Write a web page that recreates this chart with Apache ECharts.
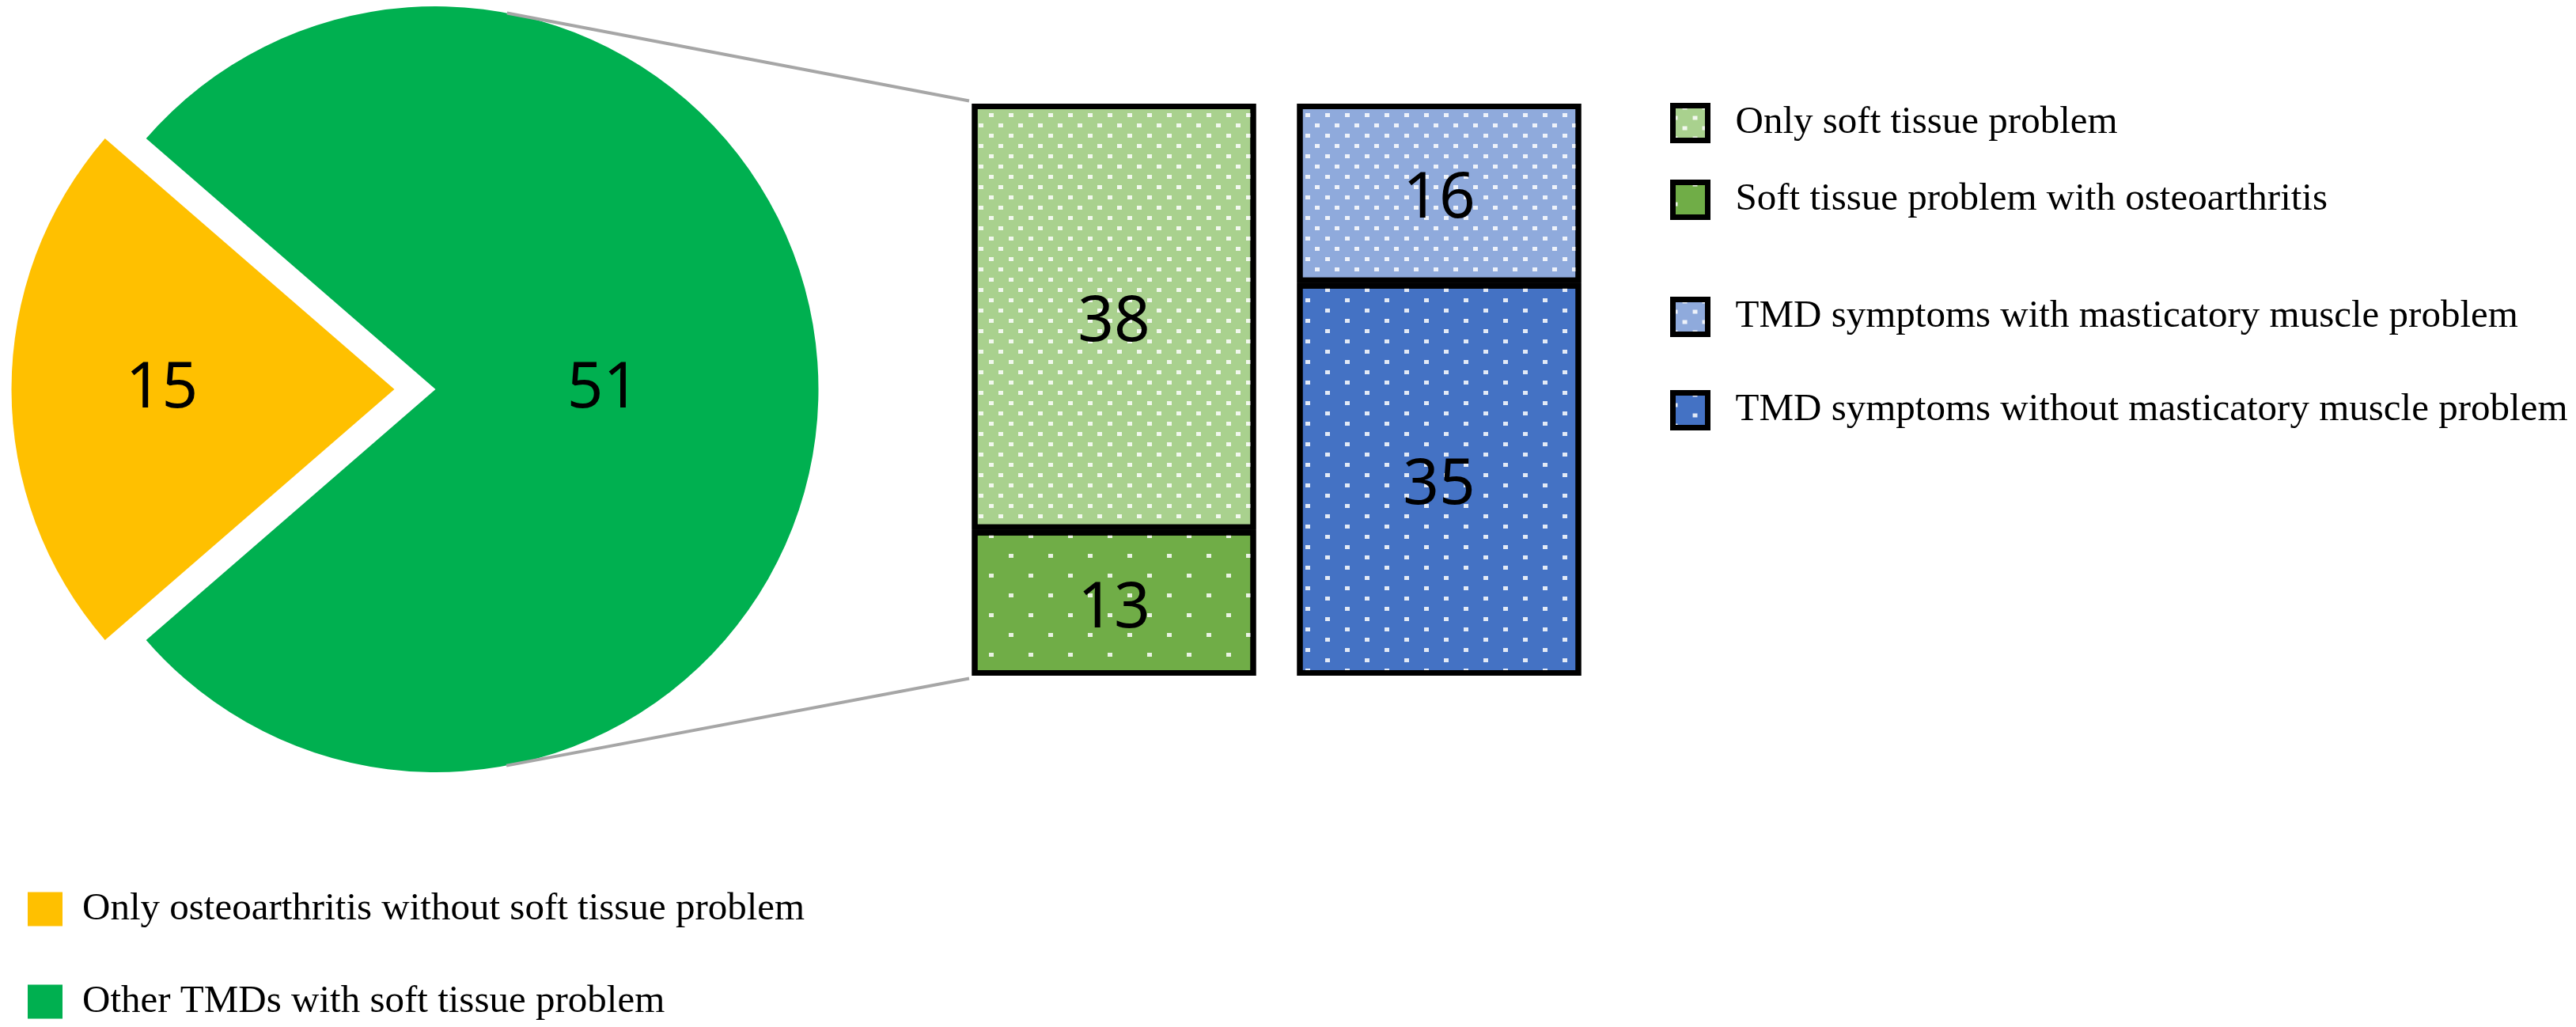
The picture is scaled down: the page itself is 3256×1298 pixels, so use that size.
<!DOCTYPE html>
<html>
<head>
<meta charset="utf-8">
<script src="https://cdn.jsdelivr.net/npm/echarts@6/dist/echarts.min.js"></script>
<style>
html,body{margin:0;padding:0;background:#fff;}
#chart{width:3256px;height:1298px;}
</style>
</head>
<body>
<div id="chart"></div>
<script>
// ---- data ----
const pieNames = ['Only osteoarthritis without soft tissue problem', 'Other TMDs with soft tissue problem'];
const pieValues = [15, 51];
const barCategories = ['Soft tissue', 'TMD symptoms'];
const seriesNames = [
  'Soft tissue problem with osteoarthritis',
  'Only soft tissue problem',
  'TMD symptoms without masticatory muscle problem',
  'TMD symptoms with masticatory muscle problem'
];
const softWithOA = [13, '-'];
const onlySoft = [38, '-'];
const tmdWithout = ['-', 35];
const tmdWith = ['-', 16];
const barTotal = 51;

// ---- style ----
const pieColors = ['#FFC000', '#00B050'];
const serif = 'Liberation Serif';
const sans = 'Noto Sans';
const pieCenter = [524.5, 492];
const pieRadius = 484;
const explode = 26;

const denseDecal = {symbol: 'rect', symbolSize: 1, color: 'rgba(255,255,255,0.85)',
  dashArrayX: [[6, 19], [0, 12, 6, 7]], dashArrayY: [5, 7.5]};
const sparseDecal = {symbol: 'rect', symbolSize: 1, color: 'rgba(255,255,255,0.85)',
  dashArrayX: [[6, 44], [0, 25, 6, 19]], dashArrayY: [5, 20]};
const sparseDecalBlue = {symbol: 'rect', symbolSize: 1, color: 'rgba(255,255,255,0.85)',
  dashArrayX: [[6, 44], [0, 25, 6, 19]], dashArrayY: [5, 7.5]};

function barSeries(name, data, color, decal) {
  return {
    type: 'bar', name: name, data: data, stack: 'total', barWidth: 359,
    xAxisIndex: 0, yAxisIndex: 0,
    itemStyle: {color: color, borderColor: '#000', borderWidth: 7, decal: decal},
    label: {show: true, position: 'inside', offset: [0, 8], fontFamily: sans, fontSize: 80, color: '#000'},
    emphasis: {disabled: true}
  };
}

function rightLegend(name, top) {
  return {
    data: [name], left: 2111, top: top, orient: 'vertical', padding: 0,
    itemWidth: 44, itemHeight: 44, icon: 'rect', selectedMode: false,
    itemStyle: {borderColor: '#000', borderWidth: 7},
    textStyle: {fontFamily: serif, fontSize: 49, color: '#000', lineHeight: 50, padding: [0, 0, 0, 30]}
  };
}

const chart = echarts.init(document.getElementById('chart'), null, {renderer: 'canvas'});
const option = {
  animation: false,
  backgroundColor: '#fff',
  grid: {left: 1202.5, right: 1231.5, top: 131, bottom: 444, containLabel: false},
  xAxis: {type: 'category', data: barCategories, show: false},
  yAxis: {type: 'value', min: 0, max: barTotal, show: false},
  legend: [
    {
      data: pieNames, left: 35, top: 1124, orient: 'vertical', padding: 0, itemGap: 67,
      itemWidth: 44, itemHeight: 43, icon: 'rect', selectedMode: false,
      textStyle: {fontFamily: serif, fontSize: 49, color: '#000', lineHeight: 50, padding: [0, 0, 0, 20]}
    },
    rightLegend(seriesNames[1], 130),
    rightLegend(seriesNames[0], 227),
    rightLegend(seriesNames[3], 375),
    rightLegend(seriesNames[2], 493)
  ],
  series: [
    {
      type: 'pie', name: 'TMD', center: pieCenter, radius: pieRadius,
      startAngle: 180 + pieValues[0] / (pieValues[0] + pieValues[1]) * 180,
      selectedMode: 'multiple', selectedOffset: explode,
      emphasis: {disabled: true, scale: false},
      label: {show: true, position: 'inside', fontFamily: sans, fontSize: 80, color: '#000'},
      labelLine: {show: false},
      data: [
        {name: pieNames[0], value: pieValues[0], selected: true,
          itemStyle: {color: pieColors[0]},
          label: {formatter: '{c}', padding: [32, 98, 0, 0]}},
        {name: pieNames[1], value: pieValues[1], selected: true,
          itemStyle: {color: pieColors[1]},
          label: {formatter: '{c}', padding: [0, 66, 16, 0]}}
      ]
    },
    barSeries(seriesNames[0], softWithOA, '#70AD47', sparseDecal),
    barSeries(seriesNames[1], onlySoft, '#A9D18E', denseDecal),
    barSeries(seriesNames[2], tmdWithout, '#4472C4', sparseDecalBlue),
    barSeries(seriesNames[3], tmdWith, '#8FAADC', denseDecal)
  ]
};
chart.setOption(option);

// connector lines: tangent from the exploded main slice to the first bar's corners
(function () {
  const pieModel = chart.getModel().getSeriesByIndex(0);
  const lay = pieModel.getData().getItemLayout(1);
  const mid = (lay.startAngle + lay.endAngle) / 2;
  const cx = lay.cx + explode * Math.cos(mid);
  const cy = lay.cy + explode * Math.sin(mid);
  const r = lay.r;
  const top = chart.convertToPixel({gridIndex: 0}, [0, barTotal]);
  const bottom = chart.convertToPixel({gridIndex: 0}, [0, 0]);
  const bx = top[0] - 359 / 2 - 3.5;
  function tangent(px, py, sign) {
    const d = Math.hypot(px - cx, py - cy);
    const base = Math.atan2(py - cy, px - cx);
    const a = base + sign * Math.acos(r / d);
    return [cx + r * Math.cos(a), cy + r * Math.sin(a)];
  }
  const t1 = tangent(bx, top[1] - 3.5, -1);
  const t2 = tangent(bx, bottom[1] + 3.5, 1);
  chart.setOption({
    graphic: [
      {type: 'line', z: 100, shape: {x1: t1[0], y1: t1[1], x2: bx, y2: top[1] - 3.5},
        style: {stroke: '#A6A6A6', lineWidth: 4}},
      {type: 'line', z: 100, shape: {x1: t2[0], y1: t2[1], x2: bx, y2: bottom[1] + 3.5},
        style: {stroke: '#A6A6A6', lineWidth: 4}}
    ]
  });
})();
</script>
</body>
</html>
